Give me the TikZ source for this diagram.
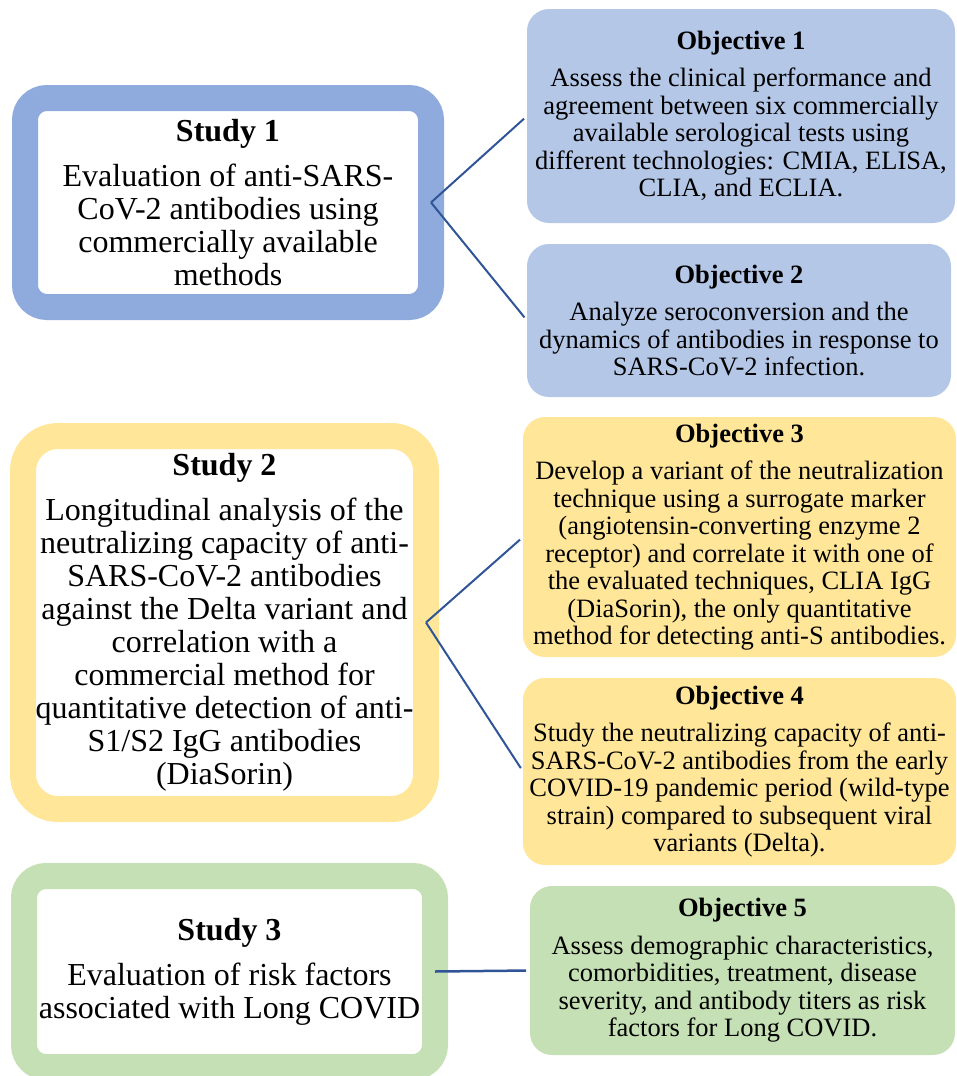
\documentclass[tikz,border=0pt]{standalone}
\usepackage{fontspec}
\setmainfont{Liberation Serif}
\usepackage{xcolor}
\usetikzlibrary{positioning}
\definecolor{studyblue}{HTML}{8FAADC}
\definecolor{objblue}{HTML}{B4C7E7}
\definecolor{studygold}{HTML}{FFE699}
\definecolor{objgold}{HTML}{FFE699}
\definecolor{studygreen}{HTML}{C5E0B4}
\definecolor{objgreen}{HTML}{C5E0B4}
\definecolor{linkblue}{HTML}{2F5597}

\begin{document}
\begin{tikzpicture}[x=1pt, y=-1pt,
    study/.style={draw=#1, line width=26pt, outer sep=0pt, fill=white, rounded corners=22pt, inner sep=0pt, align=center, font=\fontsize{32}{33}\selectfont},
    objective/.style={fill=#1, rounded corners=22pt, outer sep=0pt, inner sep=0pt, align=center, font=\fontsize{26.5}{27.5}\selectfont},
    link/.style={draw=linkblue, line width=2pt, shorten >=4pt}]
                        \useasboundingbox (0,0) rectangle (956,1076);
                        \clip (0,0) rectangle (956,1076);
                        % studies
                        \node[study=studyblue, minimum width=406pt, minimum height=209pt] (study1) at (228, 202.5) {\textbf{Study 1}\\[12pt]Evaluation of anti-SARS-\\CoV-2 antibodies using\\commercially available\\methods};
                        \node[study=studygold, rounded corners=35pt, minimum width=403pt, minimum height=373pt] (study2) at (224.5, 622.5) {\textbf{Study 2}\\[12pt]Longitudinal analysis of the\\neutralizing capacity of anti-\\SARS-CoV-2 antibodies\\against the Delta variant and\\correlation with a\\commercial method for\\quantitative detection of anti-\\S1/S2 IgG antibodies\\(DiaSorin)};
                        \node[study=studygreen, minimum width=411pt, minimum height=191pt] (study3) at (229.5, 971.5) {\textbf{Study 3}\\[12pt]Evaluation of risk factors\\associated with Long COVID};
                        % objectives
                        \node[objective=objblue, minimum width=428pt, minimum height=214pt] (obj1) at (741, 116) {\textbf{Objective 1}\\[10pt]Assess the clinical performance and\\agreement between six commercially\\available serological tests using\\different technologies: CMIA, ELISA,\\CLIA, and ECLIA.};
                        \node[objective=objblue, minimum width=424pt, minimum height=153pt] (obj2) at (739, 320.5) {\textbf{Objective 2}\\[10pt]Analyze seroconversion and the\\dynamics of antibodies in response to\\SARS-CoV-2 infection.};
                        \node[objective=objgold, minimum width=433pt, minimum height=240pt] (obj3) at (739.5, 537) {\textbf{Objective 3}\\[10pt]Develop a variant of the neutralization\\technique using a surrogate marker\\(angiotensin-converting enzyme 2\\receptor) and correlate it with one of\\the evaluated techniques, CLIA IgG\\(DiaSorin), the only quantitative\\method for detecting anti-S antibodies.};
                        \node[objective=objgold, minimum width=433pt, minimum height=187pt] (obj4) at (739.5, 771.5) {\textbf{Objective 4}\\[10pt]Study the neutralizing capacity of anti-\\SARS-CoV-2 antibodies from the early\\COVID-19 pandemic period (wild-type\\strain) compared to subsequent viral\\variants (Delta).};
                        \node[objective=objgreen, minimum width=425pt, minimum height=169pt] (obj5) at (742.5, 970.5) {\textbf{Objective 5}\\[10pt]Assess demographic characteristics,\\comorbidities, treatment, disease\\severity, and antibody titers as risk\\factors for Long COVID.};
                        % links
                        \draw[link]
                        (study1.east) edge (obj1.west)
                        (study1.east) edge (obj2.west)
                        (study2.east) edge (obj3.west)
                        (study2.east) edge (obj4.west);
                        \draw[link, line width=2.5pt] (study3.east) -- (obj5.west);
                    \end{tikzpicture}
\end{document}
